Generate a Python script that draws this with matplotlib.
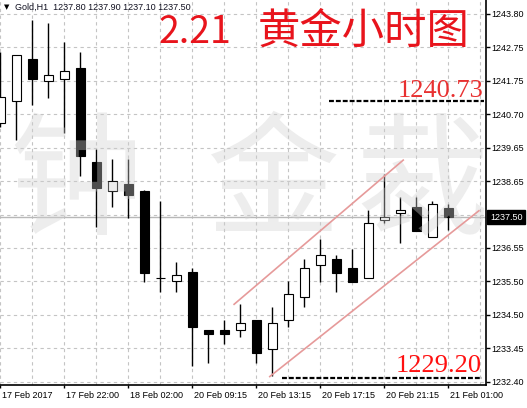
import matplotlib
matplotlib.use("Agg")
import numpy as np
import matplotlib.pyplot as plt
import matplotlib.transforms as mtransforms

plt.rcParams['font.family'] = ['Liberation Sans', 'DejaVu Sans']

# H1 candles
opens = [1240.41, 1241.09, 1242.40, 1241.71, 1241.80, 1242.13, 1239.20, 1238.30, 1238.53, 1238.31,
         1235.62, 1235.51, 1235.80, 1234.00, 1234.00, 1233.99, 1234.31, 1233.40, 1234.30, 1235.02,
         1236.01, 1236.20, 1235.93, 1235.61, 1237.40, 1237.63, 1237.83, 1236.90, 1237.80]
highs = [1242.62, 1242.52, 1243.62, 1243.52, 1242.94, 1242.61, 1239.61, 1239.31, 1239.31, 1238.35,
         1238.00, 1236.11, 1235.93, 1234.00, 1234.31, 1234.81, 1234.31, 1234.72, 1235.52, 1236.20,
         1236.82, 1236.33, 1236.51, 1237.72, 1238.84, 1238.14, 1238.14, 1238.00, 1237.90]
lows = [1240.31, 1239.89, 1240.99, 1241.21, 1240.10, 1238.79, 1237.21, 1237.81, 1237.49, 1235.50,
        1235.19, 1235.19, 1232.89, 1232.99, 1233.58, 1233.80, 1232.99, 1232.58, 1234.11, 1234.71,
        1235.48, 1235.19, 1235.50, 1235.61, 1237.31, 1236.69, 1237.08, 1236.90, 1237.10]
closes = [1241.22, 1242.52, 1241.80, 1241.90, 1242.03, 1239.41, 1238.40, 1238.61, 1238.20, 1235.78,
          1235.60, 1235.70, 1234.11, 1233.89, 1233.89, 1234.21, 1233.30, 1234.21, 1235.11, 1235.92,
          1236.32, 1235.78, 1235.50, 1237.32, 1237.50, 1237.72, 1237.08, 1237.91, 1237.50]

price_labels = ["1232.40", "1233.45", "1234.50", "1235.50", "1236.55", "1237.60",
                "1238.65", "1239.65", "1240.70", "1241.75", "1242.75", "1243.80"]
date_pos = [0, 4, 8, 12, 16, 20, 24, 28]
date_labels = ["17 Feb 2017", "17 Feb 22:00", "18 Feb 02:00", "20 Feb 09:15",
               "20 Feb 13:15", "20 Feb 17:15", "20 Feb 21:15", "21 Feb 01:00"]

last_price = 1237.50
upper_channel = ([14.6, 25.17], [1234.80, 1239.27])
lower_channel = ([16.83, 29.9], [1232.56, 1237.70])
resist_level = 1241.11
support_level = 1232.50

W, H = 527, 408
fig = plt.figure(figsize=(W / 100, H / 100), dpi=100)
ax = fig.add_axes([0, 23 / H, 486 / W, 385 / H])

x = np.arange(len(opens))
o = np.array(opens)
c = np.array(closes)

ax.set_xlim(-0.031, -0.031 + 486 / 16)
ax.set_ylim(1232.298, 1244.234)

# grid
grid_vals = np.linspace(float(price_labels[0]), float(price_labels[-1]), len(price_labels))
for g in grid_vals:
    ax.axhline(g, color='#c4c4c4', lw=0.8, ls=(0, (3, 3)), zorder=0)
for g in range(0, 31, 2):
    ax.axvline(g, color='#c4c4c4', lw=0.8, ls=(0, (3, 3)), zorder=0)

# bid line
ax.axhline(last_price, color='#b8b8b8', lw=1, zorder=1)

# candles
ax.vlines(x, lows, highs, color='black', lw=1, zorder=2)
bull = c >= o
ax.bar(x, c - o, bottom=o, width=0.62,
       color=np.where(bull, 'white', 'black'), edgecolor='black', lw=0.8, zorder=3)

# watermark
for wx, ch in zip([75, 272, 422], "钟金裁"):
    ax.text(wx / 16, 1238.45, ch, fontsize=96, color='#d0d0d0', alpha=0.38,
            ha='center', va='center', family=['Noto Sans CJK SC'],
            zorder=4, clip_on=True)

# channel lines
ax.plot(*upper_channel, color='#e69a9a', lw=1.2, zorder=5)
ax.plot(*lower_channel, color='#e69a9a', lw=1.2, zorder=5)

# dashed levels
ax.plot([20.56, 30.2], [resist_level] * 2, color='black', lw=1.6, ls=(0, (2.2, 0.9)), zorder=5)
ax.plot([17.6, 30.1], [support_level] * 2, color='black', lw=1.6, ls=(0, (2.2, 0.9)), zorder=5)
ax.text(30.2, 1241.23, "1240.73", color='#e83030', fontsize=19, family=['Liberation Serif'],
        ha='right', va='baseline', zorder=6)
ax.text(30.05, 1232.70, "1229.20", color='#ff1010', fontsize=19, family=['Liberation Serif'],
        ha='right', va='baseline', zorder=6)

# axes styling
for s in ['top', 'left']:
    ax.spines[s].set_visible(False)
ax.spines['right'].set_linewidth(1.2)
ax.spines['bottom'].set_linewidth(1.2)

# the level under the price tag is covered by it, so no label there
shown = [i for i, t in enumerate(price_labels) if abs(grid_vals[i] - last_price) > 0.3]
ax.yaxis.tick_right()
ax.set_yticks(grid_vals[shown])
ax.set_yticklabels([price_labels[i] for i in shown])
ax.tick_params(axis='y', length=3, width=1, pad=0.8, labelsize=6.5)

ax.set_xticks(date_pos)
ax.set_xticklabels(date_labels)
ax.tick_params(axis='x', length=2.5, width=1, pad=1.5, labelsize=6.5)
offset = mtransforms.ScaledTranslation(1.5 / 100, 0, fig.dpi_scale_trans)
for lab in ax.get_xticklabels():
    lab.set_horizontalalignment('left')
    lab.set_transform(lab.get_transform() + offset)

# current price tag
trans = mtransforms.blended_transform_factory(ax.transAxes, ax.transData)
ax.text(1.008, last_price, "1237.50", transform=trans, color='white', fontsize=6.5,
        ha='left', va='center', zorder=10, clip_on=False,
        bbox=dict(boxstyle='square,pad=0.3', fc='black', ec='black'))

# header and title
fig.text(4 / W, 1 - 7.5 / H, "▼", fontsize=5, va='center', family=['DejaVu Sans'])
fig.text(15 / W, 1 - 7.5 / H, "Gold,H1  1237.80 1237.90 1237.10 1237.50", fontsize=6.5,
         va='center', color='#101020')
fig.text(159 / W, 1 - 43 / H, "2.21", fontsize=27, color='#e8141c',
         family=['Noto Sans CJK SC'], fontweight='light', va='baseline')
fig.text(258 / W, 1 - 32 / H, "黄金小时图", fontsize=30.5, color='#e8141c',
         family=['Noto Sans CJK SC'], va='center')

fig.savefig("out.png", dpi=100)
